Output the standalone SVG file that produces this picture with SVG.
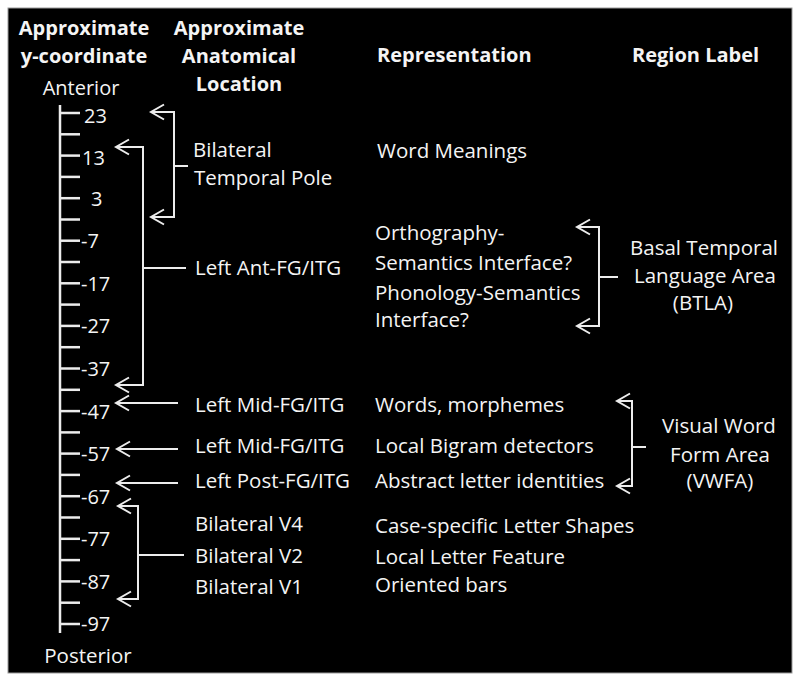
<svg xmlns="http://www.w3.org/2000/svg" width="800" height="683" viewBox="0 0 800 683">
<style>
text{font-family:"Open Sans","Liberation Sans",sans-serif;fill:#f4f4f4;font-size:20.5px}
.h{font-weight:bold;font-size:20px}
.c{text-anchor:middle}
.n{font-size:20px}
.ln{stroke:#ececec;stroke-width:2;fill:none}
.tk{stroke:#ececec;stroke-width:2.5}
</style>
<defs>
<marker id="ah" markerUnits="userSpaceOnUse" viewBox="-15 -10 17 20" refX="0" refY="0" markerWidth="17" markerHeight="20" orient="auto-start-reverse" overflow="visible">
<path d="M-13,-7.5 L0,0 L-13,7.5" fill="none" stroke="#ececec" stroke-width="2"/>
</marker>
</defs>
<rect x="0" y="0" width="800" height="683" fill="#ffffff"/>
<rect x="8" y="8" width="784" height="665" fill="#000000" stroke="#9a9a9a" stroke-width="1"/>
<g id="headers">
<text class="h c" x="84" y="35">Approximate</text>
<text class="h c" x="84" y="63">y-coordinate</text>
<text class="h c" x="239" y="35">Approximate</text>
<text class="h c" x="239" y="63">Anatomical</text>
<text class="h c" x="239" y="91">Location</text>
<text class="h" x="377" y="62">Representation</text>
<text class="h" x="632" y="62">Region Label</text>
</g>
<g id="axis">
<text class="c n" x="81" y="95">Anterior</text>
<text class="c" x="88" y="663">Posterior</text>
<line class="tk" x1="60" y1="105" x2="60" y2="633"/>
<g class="tk">
<line x1="60" y1="113" x2="80" y2="113"/>
<line x1="60" y1="134.3" x2="80" y2="134.3"/>
<line x1="60" y1="155.6" x2="80" y2="155.6"/>
<line x1="60" y1="176.9" x2="80" y2="176.9"/>
<line x1="60" y1="198.2" x2="80" y2="198.2"/>
<line x1="60" y1="219.5" x2="80" y2="219.5"/>
<line x1="60" y1="240.7" x2="80" y2="240.7"/>
<line x1="60" y1="262" x2="80" y2="262"/>
<line x1="60" y1="283.3" x2="80" y2="283.3"/>
<line x1="60" y1="304.6" x2="80" y2="304.6"/>
<line x1="60" y1="325.9" x2="80" y2="325.9"/>
<line x1="60" y1="347.2" x2="80" y2="347.2"/>
<line x1="60" y1="368.5" x2="80" y2="368.5"/>
<line x1="60" y1="389.8" x2="80" y2="389.8"/>
<line x1="60" y1="411.1" x2="80" y2="411.1"/>
<line x1="60" y1="432.4" x2="80" y2="432.4"/>
<line x1="60" y1="453.6" x2="80" y2="453.6"/>
<line x1="60" y1="474.9" x2="80" y2="474.9"/>
<line x1="60" y1="496.2" x2="80" y2="496.2"/>
<line x1="60" y1="517.5" x2="80" y2="517.5"/>
<line x1="60" y1="538.8" x2="80" y2="538.8"/>
<line x1="60" y1="560.1" x2="80" y2="560.1"/>
<line x1="60" y1="581.4" x2="80" y2="581.4"/>
<line x1="60" y1="602.7" x2="80" y2="602.7"/>
<line x1="60" y1="624" x2="80" y2="624"/>
</g>
<text class="n" x="84" y="123">23</text>
<text class="n" x="82" y="165">13</text>
<text class="n" x="91" y="206">3</text>
<text class="n" x="81" y="248">-7</text>
<text class="n" x="81" y="291">-17</text>
<text class="n" x="81" y="333">-27</text>
<text class="n" x="81" y="376">-37</text>
<text class="n" x="81" y="419">-47</text>
<text class="n" x="81" y="461">-57</text>
<text class="n" x="81" y="504">-67</text>
<text class="n" x="81" y="546">-77</text>
<text class="n" x="81" y="589">-87</text>
<text class="n" x="81" y="631">-97</text>
</g>
<g id="anatomy">
<text x="193" y="157">Bilateral</text>
<text x="194" y="185">Temporal Pole</text>
<text x="195" y="275">Left Ant-FG/ITG</text>
<text x="195" y="412">Left Mid-FG/ITG</text>
<text x="195" y="453">Left Mid-FG/ITG</text>
<text x="195" y="488">Left Post-FG/ITG</text>
<text x="195" y="531">Bilateral V4</text>
<text x="195" y="563">Bilateral V2</text>
<text x="195" y="594">Bilateral V1</text>
</g>
<g id="representation">
<text x="377" y="158">Word Meanings</text>
<text x="375" y="240">Orthography-</text>
<text x="375" y="270">Semantics Interface?</text>
<text x="375" y="300">Phonology-Semantics</text>
<text x="375" y="327">Interface?</text>
<text x="375" y="412">Words, morphemes</text>
<text x="375" y="453">Local Bigram detectors</text>
<text x="375" y="488">Abstract letter identities</text>
<text x="375" y="533">Case-specific Letter Shapes</text>
<text x="375" y="564">Local Letter Feature</text>
<text x="375" y="592">Oriented bars</text>
</g>
<g id="btla">
<text class="c" x="704" y="255">Basal Temporal</text>
<text class="c" x="705" y="283">Language Area</text>
<text class="c" x="703" y="310">(BTLA)</text>
</g>
<g id="vwfa">
<text class="c" x="719" y="433">Visual Word</text>
<text class="c" x="720" y="462">Form Area</text>
<text class="c" x="720" y="488">(VWFA)</text>
</g>
<g id="connectors">
<path class="ln" d="M151,112 H174 V217 H151" marker-start="url(#ah)" marker-end="url(#ah)"/>
<line class="ln" x1="174" y1="166" x2="188" y2="166"/>
<path class="ln" d="M116,147 H143 V385 H116" marker-start="url(#ah)" marker-end="url(#ah)"/>
<line class="ln" x1="143" y1="268" x2="186" y2="268"/>
<line class="ln" x1="178" y1="403" x2="116" y2="403" marker-end="url(#ah)"/>
<line class="ln" x1="178" y1="449" x2="117" y2="449" marker-end="url(#ah)"/>
<line class="ln" x1="178" y1="483" x2="117" y2="483" marker-end="url(#ah)"/>
<path class="ln" d="M118,506 H138 V599 H118" marker-start="url(#ah)" marker-end="url(#ah)"/>
<line class="ln" x1="138" y1="555" x2="184" y2="555"/>
<path class="ln" d="M577,227 H599 V326 H577" marker-start="url(#ah)" marker-end="url(#ah)"/>
<line class="ln" x1="599" y1="277" x2="618" y2="277"/>
<path class="ln" d="M617,401 H632 V486 H617" marker-start="url(#ah)" marker-end="url(#ah)"/>
<line class="ln" x1="632" y1="447" x2="646" y2="447"/>
</g>
</svg>
